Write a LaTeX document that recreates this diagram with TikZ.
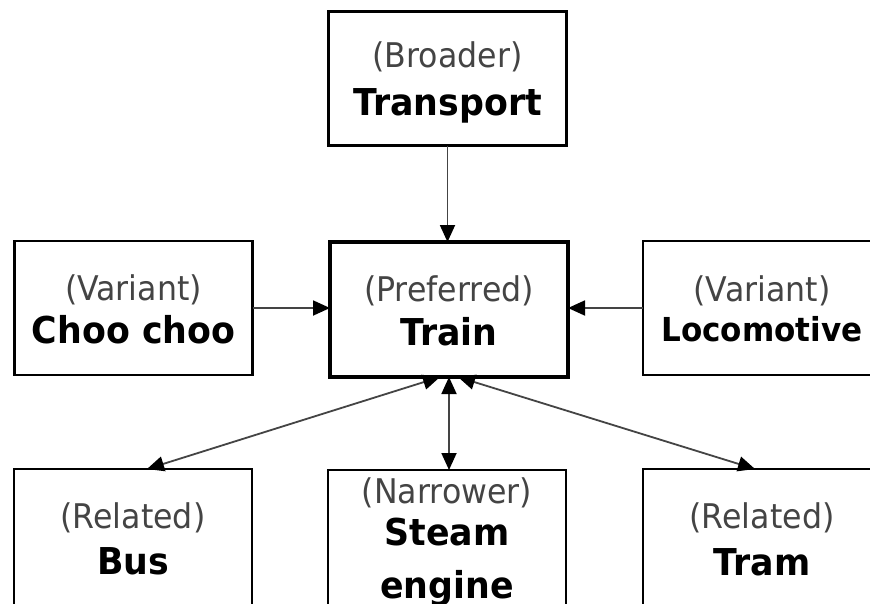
\documentclass[tikz,border=0pt]{standalone}
\usepackage{fontspec}
\setmainfont{DejaVu Sans}
\newfontfamily\rolefont{DejaVu Sans}[FakeStretch=0.93]
\newfontfamily\termfont{DejaVu Sans}[FakeStretch=0.94]
\usetikzlibrary{arrows.meta}
\definecolor{rolegray}{HTML}{444444}
\definecolor{linkgray}{HTML}{444444}
\begin{document}
\begin{tikzpicture}[x=1pt,y=-1pt,
  termbox/.style={draw=black, line width=2.8pt, fill=white,
    minimum width=238pt, minimum height=134pt, inner sep=0pt, outer sep=0pt},
  mainbox/.style={termbox, line width=4.5pt, minimum height=135pt},
  cutbox/.style={termbox, minimum height=140pt},
  role/.style={anchor=base, inner sep=0pt, text=rolegray,
    font=\rolefont\fontsize{34}{40}\selectfont},
  term/.style={anchor=base, inner sep=0pt, text=black,
    font=\termfont\bfseries\fontsize{37}{44}\selectfont},
  tip/.tip={Triangle[length=17pt, width=15pt, color=black]},
  link/.style={draw=linkgray, line width=1.8pt, -tip},
  duallink/.style={draw=linkgray, line width=1.8pt, tip-tip}
]
\useasboundingbox (0,0) rectangle (870,603);
\fill[white] (0,0) rectangle (870,603);
\clip (0,0) rectangle (870,603);

% boxes
\node[termbox] (transport) at (447.5,78.5) {};
\node[termbox] (choo)      at (133.5,308) {};
\node[mainbox] (train)     at (449,309.5) {};
\node[termbox] (loco)      at (762,308) {};
\node[cutbox]  (bus)       at (133,539) {};
\node[cutbox]  (steam)     at (447,540) {};
\node[cutbox]  (tram)      at (762,539) {};

% labels
\node[role] (transportRole) at (447.5,67) {(Broader)};
\node[term] (transportTerm) at (447.5,115) {Transport};
\node[role] (chooRole) at (133.5,300) {(Variant)};
\node[term] (chooTerm) at (133.5,343) {Choo choo};
\node[role] (trainRole) at (449,301) {(Preferred)};
\node[term] (trainTerm) at (449,345) {Train};
\node[role] (locoRole) at (762,301) {(Variant)};
\node[term, font=\termfont\bfseries\fontsize{33}{39}\selectfont] (locoTerm) at (762,341) {Locomotive};
\node[role] (busRole) at (133,528) {(Related)};
\node[term] (busTerm) at (133,574) {Bus};
\node[role] (steamRole) at (447,503) {(Narrower)};
\node[term] (steamTerm) at (447,545) {Steam};
\node[term] (engineTerm) at (447,598) {engine};
\node[role] (tramRole) at (762,528) {(Related)};
\node[term] (tramTerm) at (762,575) {Tram};

% connectors
\draw[link] (transport.south) -- (transport.south |- train.north);
\draw[link] (choo.east) -- (choo.east -| train.west);
\draw[link] (loco.west) -- (loco.west -| train.east);
\draw[duallink] (train.south) -- (train.south |- steam.north);
\draw[duallink] ([xshift=-9pt]train.south) -- ([xshift=14pt]bus.north);
\draw[duallink] ([xshift=9pt]train.south) -- ([xshift=-7pt]tram.north);
\end{tikzpicture}
\end{document}
